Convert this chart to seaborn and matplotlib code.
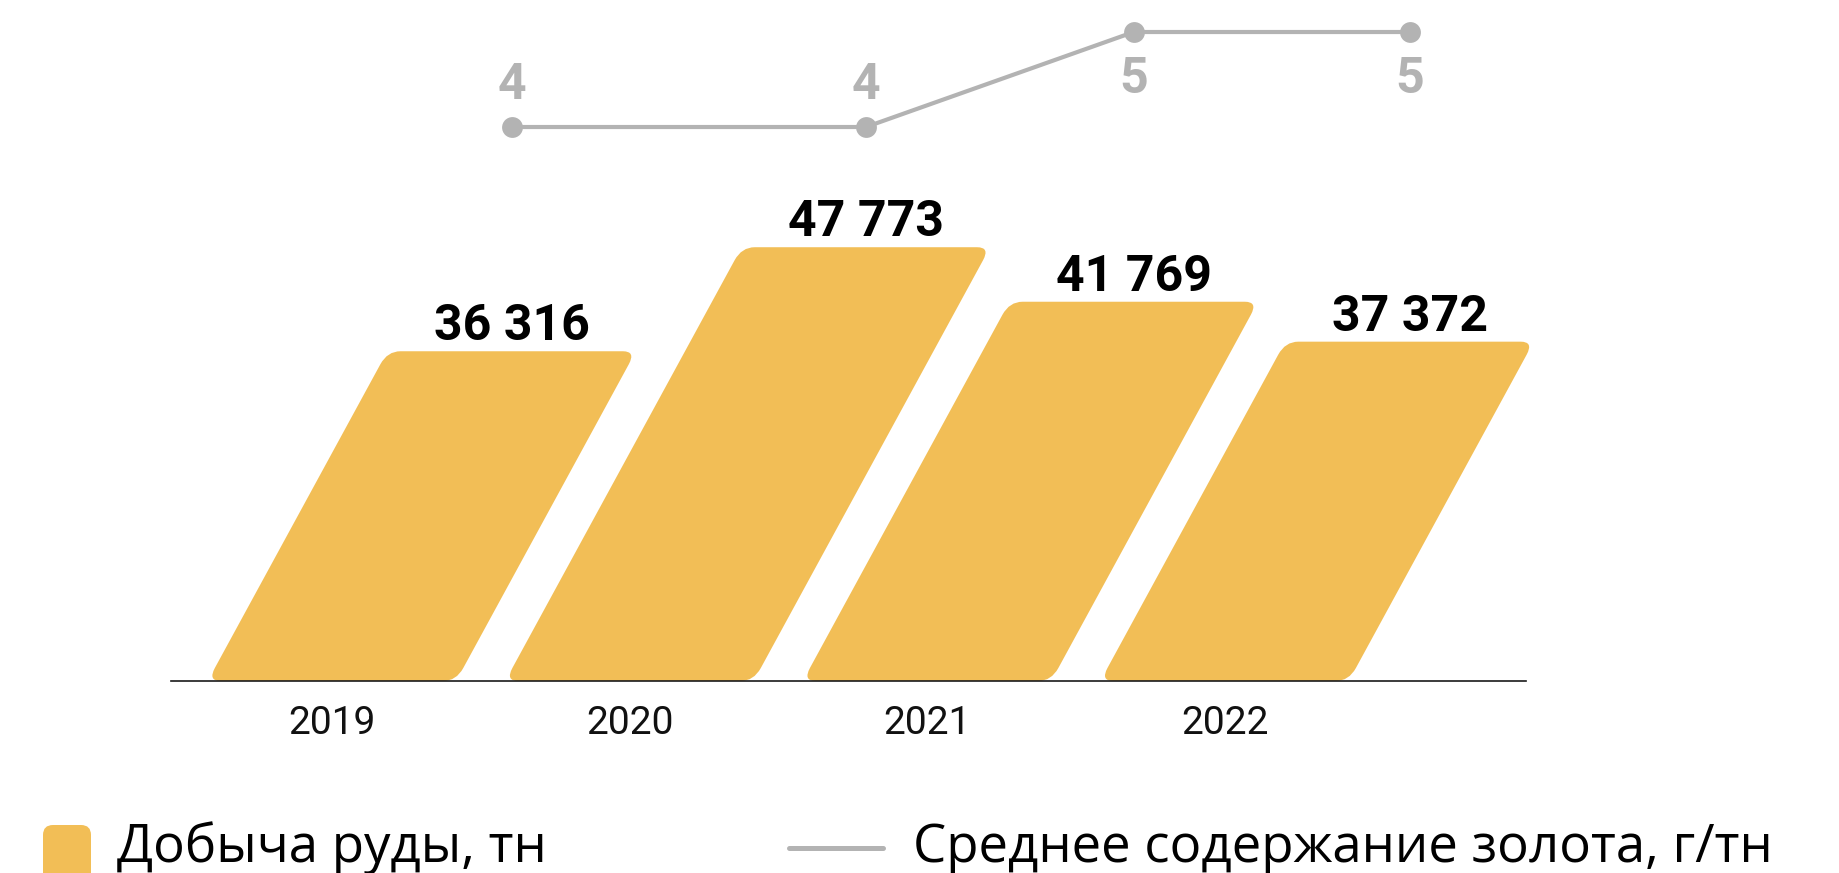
import numpy as np
import pandas as pd
import matplotlib
matplotlib.use("Agg")
import matplotlib.pyplot as plt
import seaborn as sns
from matplotlib.patches import FancyBboxPatch
from matplotlib.transforms import Affine2D, IdentityTransform
from matplotlib.lines import Line2D

# ---- data ----
years = ["2019", "2020", "2021", "2022"]
ore_tonnes = [36316, 47773, 41769, 37372]
ore_labels = ["36 316", "47 773", "41 769", "37 372"]
gold_grade = [4, 4, 5, 5]
legend_labels = ["Добыча руды, тн", "Среднее содержание золота, г/тн"]

YELLOW = "#F2BE56"
GRAY = "#B3B3B3"

sns.set_theme(style="white")
plt.rcParams["font.family"] = ["Roboto", "DejaVu Sans"]

W, H = 1840, 873
fig = plt.figure(figsize=(W / 100, H / 100), dpi=100)
rect = [171 / W, 192 / H, (1526 - 171) / W, 681 / H]
ax = fig.add_axes(rect)

df = pd.DataFrame({"year": years, "ore": ore_tonnes})
sns.barplot(data=df, x="year", y="ore", ax=ax, color=YELLOW, width=0.835,
            saturation=1)
ax.set_xlim(-0.541, 4.013)
ax.set_ylim(0, 75000)
ax.set_xlabel("")
ax.set_ylabel("")
ax.set_yticks([])
ax.tick_params(axis="x", length=0, pad=17.5, labelsize=28, labelcolor="#111111")
for s in ["left", "top", "right"]:
    ax.spines[s].set_visible(False)
ax.spines["bottom"].set_color("#1a1a1a")
ax.spines["bottom"].set_linewidth(1.2)

# ---- skew bars (slanted parallelograms with rounded corners) ----
shear = 0.545
ybase = ax.transData.transform((0, 0))[1]
skew_t = (Affine2D().translate(0, -ybase).skew(np.arctan(shear), 0)
          .translate(0, ybase))

bars = list(ax.patches)
top_centers = []
for p, lab in zip(bars, ore_labels):
    x0, w, h = p.get_x(), p.get_width(), p.get_height()
    dx0, dy0 = ax.transData.transform((x0, 0))
    dx1, dy1 = ax.transData.transform((x0 + w, h))
    fb = FancyBboxPatch((dx0, dy0), dx1 - dx0, dy1 - dy0,
                        boxstyle="round,pad=0,rounding_size=13",
                        transform=skew_t, facecolor=YELLOW, edgecolor="none",
                        clip_on=False, zorder=2)
    ax.add_artist(fb)
    p.remove()
    tc_disp = ((dx0 + dx1) / 2 + shear * (dy1 - dy0), dy1)
    tc = ax.transData.inverted().transform(tc_disp)
    top_centers.append(tc[0])
    ax.annotate(lab, xy=(tc[0], h), xytext=(0, 11 * 0.72),
                textcoords="offset points", ha="center", va="baseline",
                fontsize=36, fontweight="bold", color="black",
                annotation_clip=False)

# ---- line series (gold grade) ----
ax2 = fig.add_axes(rect)
ax2.set_axis_off()
ax2.patch.set_visible(False)
sns.lineplot(x=top_centers, y=gold_grade, ax=ax2, color=GRAY, linewidth=3,
             marker="o", markersize=15, markeredgewidth=0, clip_on=False)
ax2.set_xlim(ax.get_xlim())
ax2.set_ylim(-1.832, 5.337)
gmax = max(gold_grade)
for xv, g in zip(top_centers, gold_grade):
    off = 28 * 0.72 if g < gmax else -61 * 0.72
    ax2.annotate(str(g), xy=(xv, g), xytext=(0, off), textcoords="offset points",
                 ha="center", va="baseline", fontsize=36, fontweight="bold",
                 color=GRAY, annotation_clip=False)

# ---- legend ----
legend_font = ["Open Sans", "DejaVu Sans"]
fig.add_artist(FancyBboxPatch((43, -12), 48, 60,
                              boxstyle="round,pad=0,rounding_size=10",
                              transform=IdentityTransform(), facecolor=YELLOW,
                              edgecolor="none"))
fig.text(117 / W, 11 / H, legend_labels[0], fontsize=38, ha="left",
         va="baseline", color="black", family=legend_font)
fig.add_artist(Line2D([789 / W, 883 / W], [25 / H, 25 / H],
                      transform=fig.transFigure, color=GRAY, linewidth=3.6))
fig.text(913 / W, 11 / H, legend_labels[1], fontsize=38, ha="left",
         va="baseline", color="black", family=legend_font)

fig.savefig("out.png", dpi=100)
